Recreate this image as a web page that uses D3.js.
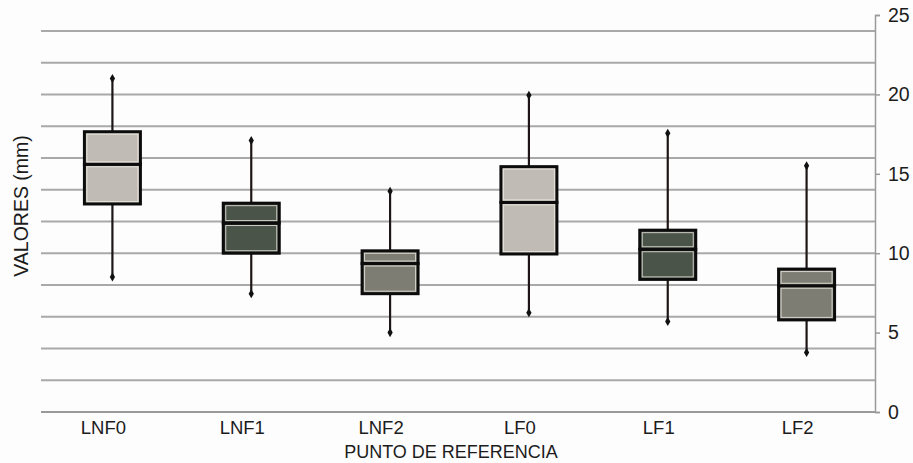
<!DOCTYPE html>
<html>
<head>
<meta charset="utf-8">
<script src="https://cdn.jsdelivr.net/npm/d3@7"></script>
<style>
  body { margin: 0; background: #fdfdfd; }
  text { font-family: "Liberation Sans", Arial, sans-serif; fill: #1c1c1c; }
</style>
</head>
<body>
<script>
const width = 913;
const height = 463;

// values (mm)
const categories = ["LNF0", "LNF1", "LNF2", "LF0", "LF1", "LF2"];
const whiskerMin = [8.5, 7.45, 5.0, 6.25, 5.7, 3.75];
const q1 = [13.1, 10.0, 7.45, 9.95, 8.35, 5.8];
const median = [15.6, 11.9, 9.35, 13.2, 10.25, 7.95];
const q3 = [17.65, 13.15, 10.15, 15.45, 11.45, 9.0];
const whiskerMax = [21.0, 17.1, 13.9, 19.95, 17.55, 15.5];
const yTicks = [0, 5, 10, 15, 20, 25];
const gridValues = [2, 4, 6, 8, 10, 12, 14, 16, 18, 20, 22, 24];

const colors = ["#c0bcb5", "#4a5449", "#7e7d73", "#c0bcb5", "#4a5449", "#7e7d73"];

const data = categories.map((c, i) => ({
  cat: c, lo: whiskerMin[i], q1: q1[i], med: median[i], q3: q3[i], hi: whiskerMax[i], color: colors[i]
}));

const svg = d3.select("body").append("svg")
  .attr("width", width)
  .attr("height", height);

const x = d3.scaleBand().domain(categories).range([43, 876]).paddingInner(0).paddingOuter(0);
const y = d3.scaleLinear().domain([0, 25]).range([412, 15]);
const boxW = 56;

// gridlines
svg.append("g").selectAll("line")
  .data(gridValues)
  .join("line")
    .attr("x1", 41).attr("x2", 875)
    .attr("y1", d => y(d)).attr("y2", d => y(d))
    .attr("stroke", "#a9a9a9")
    .attr("stroke-width", 2);

// bottom axis line
svg.append("line")
  .attr("x1", 41).attr("x2", 875)
  .attr("y1", y(0)).attr("y2", y(0))
  .attr("stroke", "#9a9a9a").attr("stroke-width", 2);

// right axis
const yAxis = svg.append("g")
  .attr("transform", "translate(875,0)")
  .call(d3.axisRight(y).tickValues(yTicks).tickSize(5).tickPadding(8));
yAxis.select(".domain").attr("stroke", "#9a9a9a").attr("stroke-width", 1.5);
yAxis.selectAll(".tick line").attr("stroke", "#9a9a9a").attr("stroke-width", 1.5);
yAxis.selectAll(".tick text")
  .attr("font-size", 19.5)
  .attr("font-family", "Liberation Sans, Arial, sans-serif")
  .attr("fill", "#1c1c1c");

// boxes
const boxes = svg.append("g").selectAll("g")
  .data(data)
  .join("g")
    .attr("transform", d => "translate(" + (x(d.cat) + x.bandwidth() / 2) + ",0)");

// whiskers
boxes.append("line")
  .attr("x1", 0).attr("x2", 0)
  .attr("y1", d => y(d.hi)).attr("y2", d => y(d.lo))
  .attr("stroke", "#1e1616").attr("stroke-width", 2.2);

// whisker ends (small diamonds)
const diamond = d3.symbol().type(d3.symbolDiamond).size(24);
boxes.selectAll(".cap")
  .data(d => [d.hi, d.lo])
  .join("path")
    .attr("class", "cap")
    .attr("d", diamond)
    .attr("transform", v => "translate(0," + y(v) + ")")
    .attr("fill", "#111");

// lower and upper halves
function halves(d) {
  return [{a: d.q1, b: d.med, color: d.color}, {a: d.med, b: d.q3, color: d.color}];
}
boxes.selectAll(".half")
  .data(halves)
  .join("rect")
    .attr("class", "half")
    .attr("x", -boxW / 2)
    .attr("width", boxW)
    .attr("y", h => y(h.b))
    .attr("height", h => y(h.a) - y(h.b))
    .attr("fill", h => h.color)
    .attr("stroke", "#0c0c0c")
    .attr("stroke-width", 3);

// thin inner highlight
boxes.selectAll(".inner")
  .data(halves)
  .join("rect")
    .attr("class", "inner")
    .attr("x", -boxW / 2 + 2.5)
    .attr("width", boxW - 5)
    .attr("y", h => y(h.b) + 2.5)
    .attr("height", h => Math.max(0, y(h.a) - y(h.b) - 5))
    .attr("fill", "none")
    .attr("stroke", "#eeeae4")
    .attr("stroke-opacity", 0.8)
    .attr("stroke-width", 1);

// category labels
svg.append("g").selectAll("text")
  .data(categories)
  .join("text")
    .attr("x", d => x(d) + x.bandwidth() / 2 - 9)
    .attr("y", 434)
    .attr("text-anchor", "middle")
    .attr("font-size", 18.5)
    .text(d => d);

// axis titles
svg.append("text")
  .attr("x", 451)
  .attr("y", 458)
  .attr("text-anchor", "middle")
  .attr("font-size", 18)
  .text("PUNTO DE REFERENCIA");

svg.append("text")
  .attr("transform", "translate(28,206) rotate(-90)")
  .attr("text-anchor", "middle")
  .attr("font-size", 19.5)
  .text("VALORES (mm)");
</script>
</body>
</html>
